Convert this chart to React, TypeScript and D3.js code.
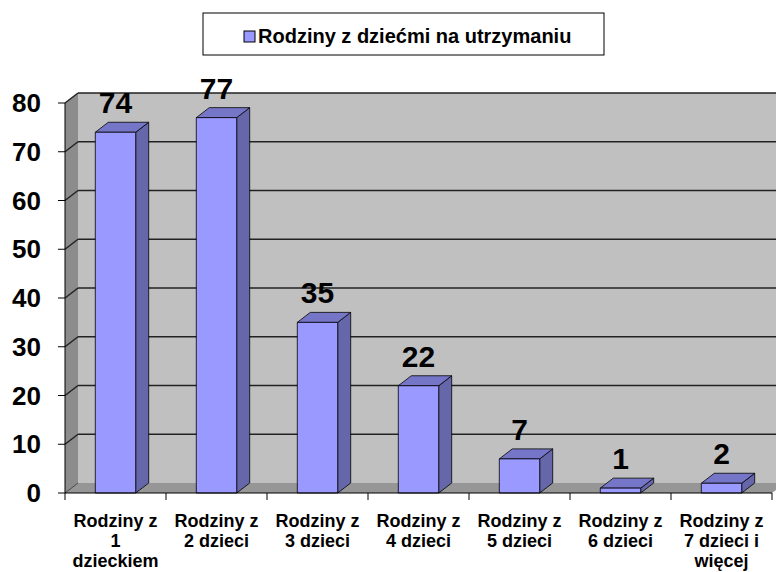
import React from "react";
import * as d3 from "d3";

const categories = [
  ["Rodziny z", "1", "dzieckiem"],
  ["Rodziny z", "2 dzieci"],
  ["Rodziny z", "3 dzieci"],
  ["Rodziny z", "4 dzieci"],
  ["Rodziny z", "5 dzieci"],
  ["Rodziny z", "6 dzieci"],
  ["Rodziny z", "7 dzieci i", "więcej"],
];
const values = [74, 77, 35, 22, 7, 1, 2];
const yTicks = [0, 10, 20, 30, 40, 50, 60, 70, 80];
const seriesName = "Rodziny z dziećmi na utrzymaniu";

const W = 776;
const H = 572;
const DX = 13;
const DY = 10;
const FONT = "'Liberation Sans', Arial, sans-serif";

export default function App() {
  const x = d3
    .scaleBand<number>()
    .domain(d3.range(values.length))
    .range([65, 772])
    .padding(0);
  const y = d3.scaleLinear().domain([0, 80]).range([493, 103]);
  const bw = x.bandwidth();
  const left = 65;
  const right = 772;
  const y0 = y(0);
  const yTop = y(80);

  return (
    <div style={{ position: "absolute", left: 0, top: 0 }}>
      <svg width={W} height={H} style={{ display: "block" }} fontFamily={FONT}>
        <rect x={0} y={0} width={W} height={H} fill="#fff" />
        {/* back wall */}
        <rect x={left + DX} y={yTop - DY} width={right - left} height={y0 - yTop} fill="#C0C0C0" />
        {/* left side wall */}
        <polygon
          points={`${left},${yTop} ${left + DX},${yTop - DY} ${left + DX},${y0 - DY} ${left},${y0}`}
          fill="#8C8C8C"
        />
        {/* floor */}
        <polygon
          points={`${left},${y0} ${right},${y0} ${right + DX},${y0 - DY} ${left + DX},${y0 - DY}`}
          fill="#969696"
        />
        {/* gridlines */}
        {yTicks.map((t) => (
          <g key={t}>
            {t > 0 && (
              <>
                <line x1={left} y1={y(t)} x2={left + DX} y2={y(t) - DY} stroke="#222" strokeWidth={1.5} />
                <line x1={left + DX} y1={y(t) - DY} x2={right + DX} y2={y(t) - DY} stroke="#222" strokeWidth={1.5} />
              </>
            )}
          </g>
        ))}
        <line x1={left + DX} y1={y0 - DY} x2={left} y2={y0} stroke="#444" strokeWidth={1} />
        {/* bars */}
        {values.map((v, i) => {
          const bx = (x(i) as number) + bw * 0.3;
          const w = bw * 0.4;
          const ty = y(v);
          return (
            <g key={i} stroke="#000" strokeWidth={0.8} strokeLinejoin="round">
              <polygon
                points={`${bx + w},${ty} ${bx + w + DX},${ty - DY} ${bx + w + DX},${y0 - DY} ${bx + w},${y0}`}
                fill="#6666AA"
              />
              <polygon
                points={`${bx},${ty} ${bx + DX},${ty - DY} ${bx + w + DX},${ty - DY} ${bx + w},${ty}`}
                fill="#7676C8"
              />
              <rect x={bx} y={ty} width={w} height={y0 - ty} fill="#9999FF" />
            </g>
          );
        })}
        {/* value labels */}
        {values.map((v, i) => (
          <text
            key={i}
            x={(x(i) as number) + bw * 0.5}
            y={y(v) - 19}
            textAnchor="middle"
            fontSize={30}
            fontWeight="bold"
            fill="#000"
          >
            {v}
          </text>
        ))}
        {/* y axis */}
        <line x1={left} y1={yTop} x2={left} y2={y0} stroke="#000" strokeWidth={1} />
        {yTicks.map((t) => (
          <g key={t}>
            <line x1={left - 7} y1={y(t)} x2={left} y2={y(t)} stroke="#000" strokeWidth={1} />
            <text x={41} y={y(t) + 9} textAnchor="end" fontSize={26} fontWeight="bold" fill="#000">
              {t}
            </text>
          </g>
        ))}
        {/* x axis */}
        <line x1={left} y1={y0} x2={right} y2={y0} stroke="#000" strokeWidth={1} />
        {d3.range(values.length + 1).map((i) => {
          const xx = left + i * bw;
          return <line key={i} x1={xx} y1={y0} x2={xx} y2={y0 + 7} stroke="#000" strokeWidth={1} />;
        })}
        {categories.map((lines, i) => (
          <text
            key={i}
            x={(x(i) as number) + bw / 2}
            textAnchor="middle"
            fontSize={18}
            fontWeight="bold"
            fill="#000"
          >
            {lines.map((l, j) => (
              <tspan key={j} x={(x(i) as number) + bw / 2} y={527 + j * 20}>
                {l}
              </tspan>
            ))}
          </text>
        ))}
        {/* legend */}
        <rect x={203} y={13} width={401} height={42} fill="#fff" stroke="#000" strokeWidth={1} />
        <rect x={244} y={31} width={11} height={11} fill="#9999FF" stroke="#000" strokeWidth={1} />
        <text x={258} y={43} fontSize={20} fontWeight="bold" fill="#000">
          {seriesName}
        </text>
      </svg>
    </div>
  );
}
